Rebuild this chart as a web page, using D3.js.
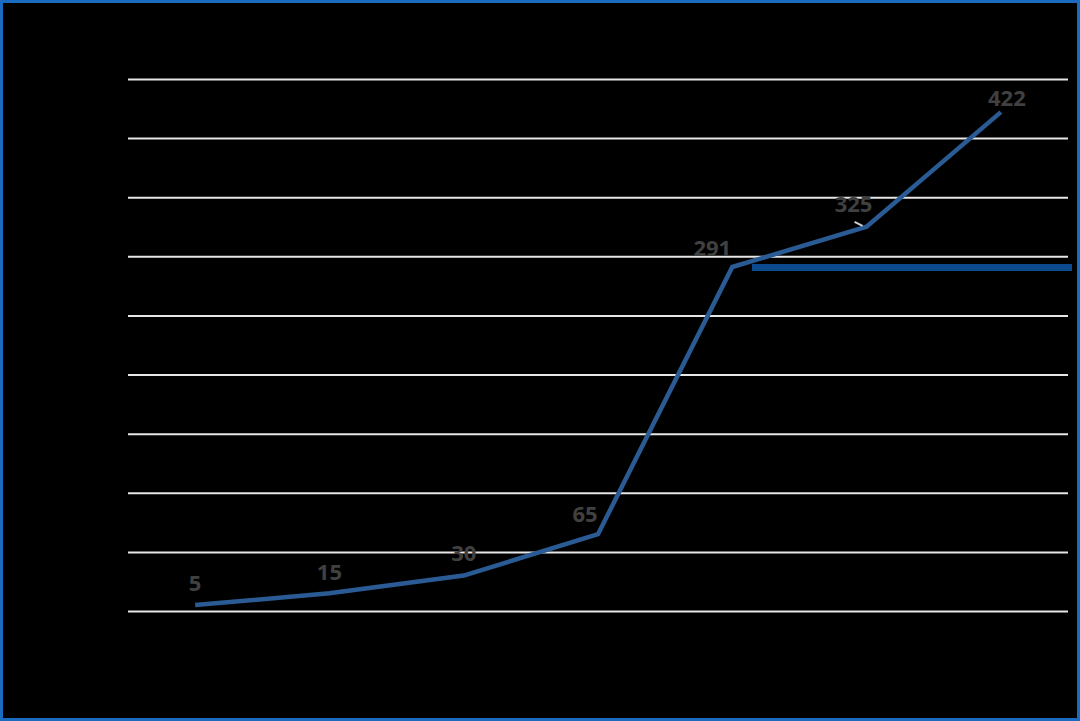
<!DOCTYPE html>
<html><head><meta charset="utf-8">
<script src="https://cdn.jsdelivr.net/npm/d3@7"></script>
<style>html,body{margin:0;padding:0;background:#000;}svg{display:block;}</style>
</head><body>
<script>
const categories = ["1","2","3","4","5","6","7"];
const values = [5, 15, 30, 65, 291, 325, 422];
const yTicks = [0, 50, 100, 150, 200, 250, 300, 350, 400, 450];

const W = 1080, H = 721;
const svg = d3.select("body").append("svg").attr("width", W).attr("height", H);
svg.append("rect").attr("x",0).attr("y",0).attr("width",W).attr("height",H).attr("fill","#000");
svg.append("rect").attr("x",1.5).attr("y",1.5).attr("width",W-3).attr("height",H-3)
  .attr("fill","none").attr("stroke","#1b6cc0").attr("stroke-width",3);

const x = d3.scalePoint().domain(categories).range([128, 1068]).padding(0.5);
const y = d3.scaleLinear().domain([0, 450]).range([611, 79]);

const grid = svg.append("g").attr("transform","translate(128,0)")
  .call(d3.axisLeft(y).tickValues(yTicks).tickSize(-(1068-128)).tickFormat(d => d));
grid.select(".domain").remove();
grid.selectAll(".tick line").attr("stroke","#e6e6e6").attr("stroke-width",2);
grid.selectAll(".tick text").attr("fill","#000").attr("font-size",14);

const xa = svg.append("g").attr("transform","translate(0,611)")
  .call(d3.axisBottom(x).tickSize(0));
xa.select(".domain").remove();
xa.selectAll("text").attr("fill","#000");

// legend swatch
svg.append("rect").attr("x",752).attr("y",264).attr("width",320).attr("height",7).attr("fill","#0c4a8e");

const line = d3.line().x((d,i)=>x(categories[i])).y(d=>y(d));
svg.append("path").datum(values).attr("d", line)
  .attr("fill","none").attr("stroke","#2a5b95").attr("stroke-width",4.5).attr("stroke-linejoin","miter");

// leader line for 325
svg.append("line").attr("x1", x(categories[5]) - 12).attr("y1", y(values[5]) - 5)
  .attr("x2", x(categories[5]) - 4).attr("y2", y(values[5]) - 1)
  .attr("stroke","#cfcfcf").attr("stroke-width",2);

const dx = [0, 0, 0, -13, -20, -13, 6];
const dy = [-14, -13, -15, -12, -11, -15, -6];
svg.selectAll(".lbl").data(values).enter().append("text")
  .attr("x",(d,i)=>x(categories[i]) + dx[i])
  .attr("y",(d,i)=>y(d) + dy[i])
  .attr("text-anchor","middle")
  .attr("font-family","'Open Sans', sans-serif").attr("font-weight","bold").attr("font-size",22)
  .attr("fill","#404040").text(d=>d);
</script>
</body></html>
